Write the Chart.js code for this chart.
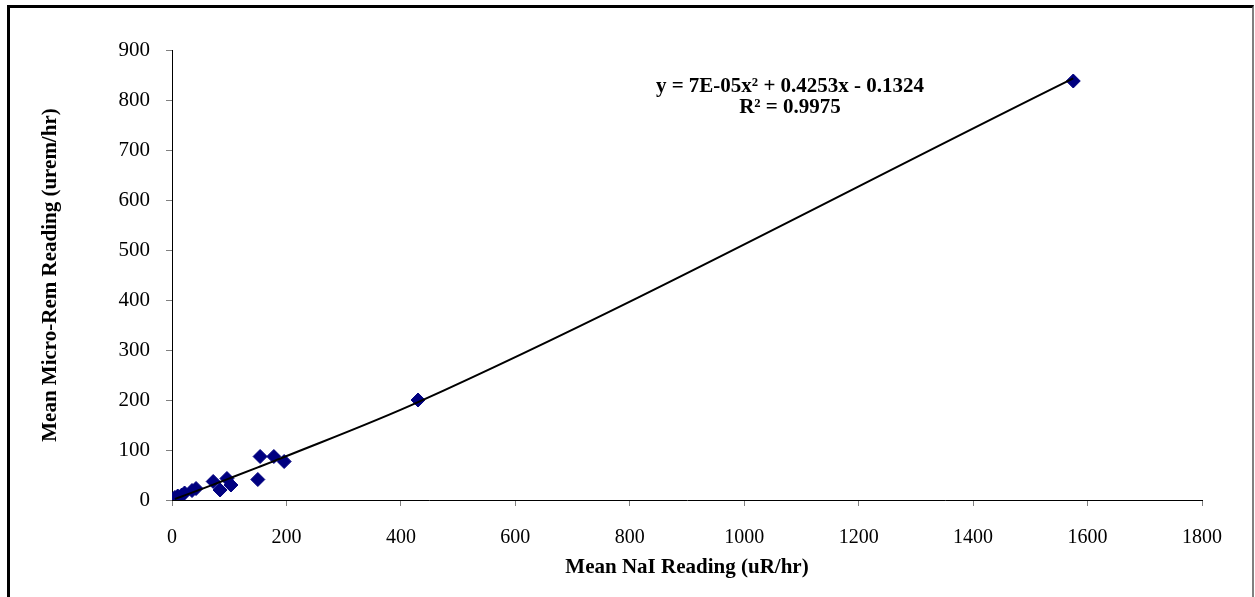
<!DOCTYPE html>
<html>
<head>
<meta charset="utf-8">
<title>Mean Micro-Rem vs NaI Reading</title>
<script src="https://cdn.jsdelivr.net/npm/chart.js@4.4.1/dist/chart.umd.min.js"></script>
<style>
    html, body { margin: 0; padding: 0; background: #fff; overflow: hidden; }
    #wrap { position: relative; width: 1255px; height: 597px; }
    #frame {
        position: absolute; left: 7px; top: 5px; width: 1242px; height: 640px;
        border-left: 3px solid #000; border-top: 3px solid #000; border-right: 2px solid #808080;
        pointer-events: none;
    }
    canvas { position: absolute; left: 0; top: 0; }
</style>
</head>
<body>
<div id="wrap">
    <canvas id="chart" width="1255" height="597"></canvas>
    <div id="frame"></div>
</div>
<script>
// Dados
const naiReading = [5, 10, 17, 22, 35, 42, 72, 84, 96, 103, 150, 154, 178, 196, 430, 1575];
const microRemReading = [5, 8, 10, 14, 19, 23, 37, 20, 43, 30, 41, 87, 87, 77, 200, 838];

// Linha de tendência polinomial (coeficientes do rótulo)
const trendCoef = [-0.1324, 0.4253, 7e-5];
const trendLabel = ['y = 7E-05x\u00b2 + 0.4253x - 0.1324', 'R\u00b2 = 0.9975'];

// Eixos
const xAxisRange = [0, 1800, 200];
const yAxisRange = [0, 900, 100];

const scatterPoints = naiReading.map((x, i) => ({ x: x, y: microRemReading[i] }));
const trendX = naiReading.slice().sort((a, b) => a - b);
const trendPoints = trendX.map(x => ({ x: x, y: trendCoef[0] + trendCoef[1] * x + trendCoef[2] * x * x }));

const serif = '"Liberation Serif", "Times New Roman", serif';

// Plugin para o rótulo da equação
const equationLabel = {
    id: 'equationLabel',
    afterDatasetsDraw(chart) {
        const ctx = chart.ctx;
        const xs = chart.scales.x, ys = chart.scales.y;
        const cx = xs.getPixelForValue(1080);
        const cy = ys.getPixelForValue(816);
        ctx.save();
        ctx.font = 'bold 21px ' + serif;
        ctx.fillStyle = '#000';
        ctx.textAlign = 'center';
        ctx.textBaseline = 'alphabetic';
        ctx.fillText(trendLabel[0], cx, cy);
        ctx.fillText(trendLabel[1], cx, cy + 21);
        ctx.restore();
    }
};

const plainTick = value => String(value);

new Chart(document.getElementById('chart'), {
    type: 'scatter',
    data: {
        datasets: [
            {
                label: 'Trend',
                type: 'line',
                data: trendPoints,
                borderColor: '#000',
                borderWidth: 2,
                pointRadius: 0,
                fill: false,
                cubicInterpolationMode: 'monotone',
                order: 0
            },
            {
                label: 'Readings',
                data: scatterPoints,
                pointStyle: 'rectRot',
                pointRadius: 7,
                pointBackgroundColor: '#000080',
                pointBorderColor: '#000080',
                pointBorderWidth: 1,
                order: 1
            }
        ]
    },
    options: {
        responsive: false,
        animation: false,
        devicePixelRatio: 1,
        layout: { padding: { left: 0, right: 53, top: 50, bottom: 0 } },
        plugins: {
            legend: { display: false },
            tooltip: { enabled: false }
        },
        scales: {
            x: {
                type: 'linear',
                min: xAxisRange[0],
                max: xAxisRange[1],
                ticks: {
                    stepSize: xAxisRange[2],
                    color: '#000',
                    padding: 20,
                    font: { family: serif, size: 20 },
                    callback: plainTick
                },
                grid: { drawOnChartArea: false, drawTicks: true, tickLength: 6, color: '#808080' },
                border: { color: '#000', width: 1 },
                title: {
                    display: true,
                    text: 'Mean NaI Reading (uR/hr)',
                    color: '#000',
                    font: { family: serif, size: 21, weight: 'bold' },
                    padding: { top: 0, bottom: 17 }
                },
                afterFit(scale) { scale.height = 97; }
            },
            y: {
                type: 'linear',
                min: yAxisRange[0],
                max: yAxisRange[1],
                ticks: {
                    stepSize: yAxisRange[2],
                    color: '#000',
                    padding: 16,
                    font: { family: serif, size: 21 },
                    callback: plainTick
                },
                grid: { drawOnChartArea: false, drawTicks: true, tickLength: 6, color: '#808080' },
                border: { color: '#000', width: 1 },
                title: {
                    display: true,
                    text: 'Mean Micro-Rem Reading (urem/hr)',
                    color: '#000',
                    font: { family: serif, size: 21, weight: 'bold' },
                    padding: { top: 38, bottom: 0 }
                },
                afterFit(scale) { scale.width = 172; }
            }
        }
    },
    plugins: [equationLabel]
});
</script>
</body>
</html>
